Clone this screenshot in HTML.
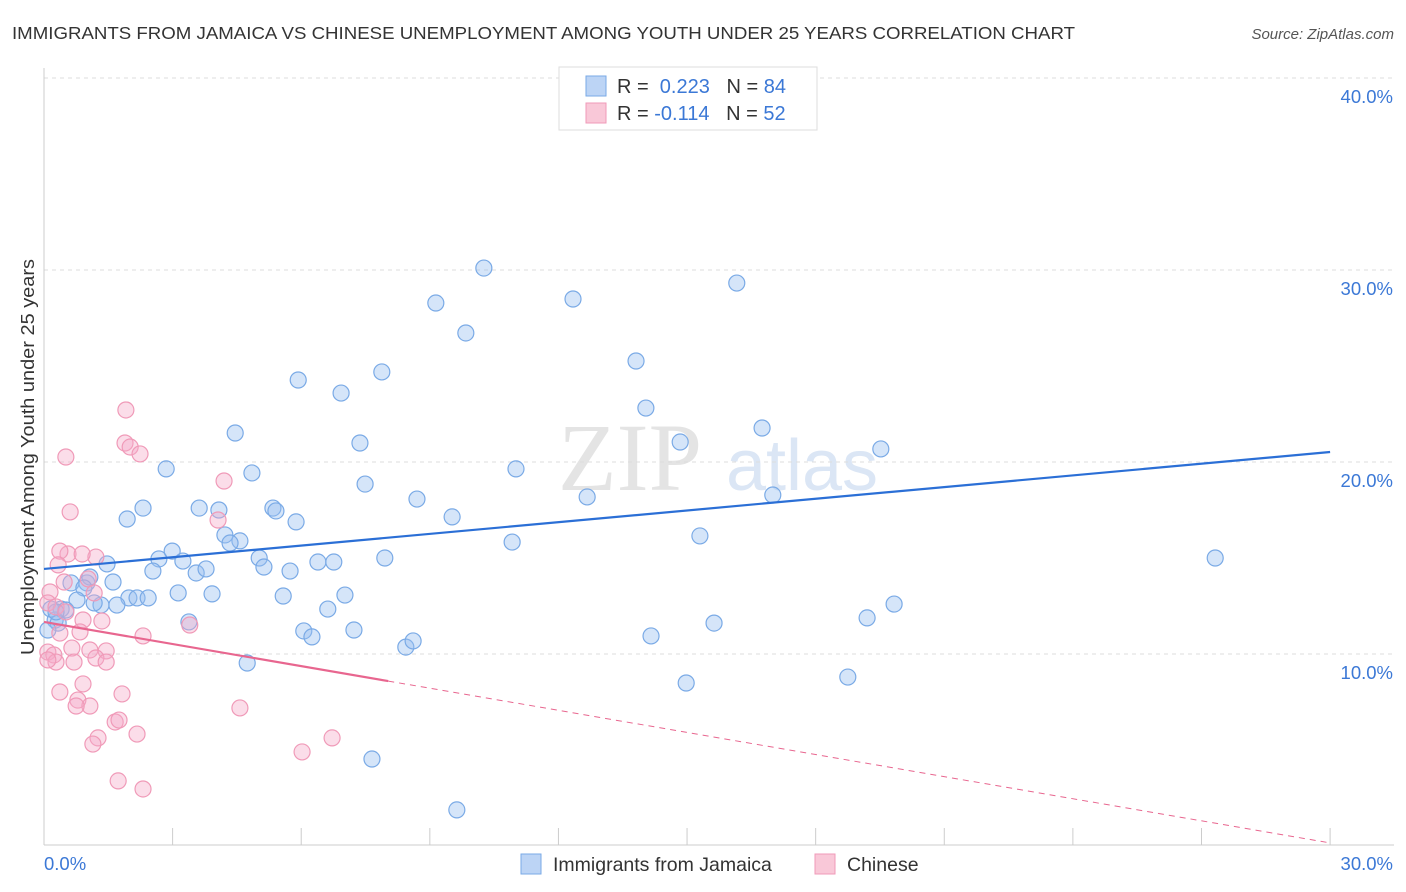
<!DOCTYPE html>
<html><head><meta charset="utf-8"><style>
body{margin:0;background:#fff;font-family:"Liberation Sans",sans-serif;}
svg{display:block}
</style></head><body>
<svg id="c" width="1406" height="892">
<text x="12" y="39" font-size="17.5" fill="#333" textLength="1063" lengthAdjust="spacingAndGlyphs">IMMIGRANTS FROM JAMAICA VS CHINESE UNEMPLOYMENT AMONG YOUTH UNDER 25 YEARS CORRELATION CHART</text>
<text x="1394" y="39" font-size="15" fill="#555" text-anchor="end" font-style="italic">Source: ZipAtlas.com</text>
<text x="630" y="490" font-size="96" fill="#e4e4e4" font-family="Liberation Serif" text-anchor="middle">ZIP</text>
<text x="802" y="490" font-size="72" fill="#dbe6f5" text-anchor="middle">atlas</text>
<text transform="translate(34,457) rotate(-90)" font-size="18" fill="#333" text-anchor="middle" textLength="396" lengthAdjust="spacingAndGlyphs">Unemployment Among Youth under 25 years</text>
<g id="grid"></g><g id="marks"></g>
<g>
<rect x="559" y="67" width="258" height="63" fill="#fff" stroke="#ddd"/>
<rect x="586" y="76" width="20" height="20" fill="#bcd4f5" stroke="#7aaae6"/>
<rect x="586" y="103" width="20" height="20" fill="#f9c8d8" stroke="#f09ab8"/>
<text x="617" y="93" font-size="20" fill="#333">R = <tspan fill="#3b78d6">&#160;0.223</tspan>&#160;&#160;&#160;N = <tspan fill="#3b78d6">84</tspan></text>
<text x="617" y="120" font-size="20" fill="#333">R = <tspan fill="#3b78d6">-0.114</tspan>&#160;&#160;&#160;N = <tspan fill="#3b78d6">52</tspan></text>
</g>
<g>
<rect x="521" y="854" width="20" height="20" fill="#bcd4f5" stroke="#7aaae6"/>
<text x="553" y="871" font-size="19.5" fill="#333">Immigrants from Jamaica</text>
<rect x="815" y="854" width="20" height="20" fill="#f9c8d8" stroke="#f09ab8"/>
<text x="847" y="871" font-size="19.5" fill="#333">Chinese</text>
</g>
</svg>
<script>
const blueX=[10.26,9.14,12.34,16.16,9.84,13.81,5.93,7.88,6.93,14.04,4.46,7.37,14.84,16.75,19.52,2.85,4.85,11.01,7.49,8.70,12.67,17.00,2.31,3.62,1.94,4.08,5.34,5.41,5.88,9.52,10.92,15.30,4.22,4.57,4.34,2.68,2.99,3.24,1.47,2.54,3.55,3.78,5.02,5.13,5.74,6.39,6.76,7.95,27.32,0.63,1.00,1.61,1.07,0.93,3.13,3.92,5.58,7.02,1.98,2.17,2.43,1.70,1.33,1.17,0.77,0.40,0.51,0.26,0.33,3.38,6.62,19.20,19.83,6.06,6.25,7.23,15.63,14.16,8.44,8.61,4.74,18.75,14.98,7.65,9.63,0.16,0.28,0.09];
const blueY=[30.10,28.28,28.49,29.32,26.72,25.26,24.27,24.69,23.59,22.81,21.51,20.99,21.04,21.77,20.68,19.64,19.43,19.64,18.85,18.07,18.18,18.28,17.60,17.60,17.03,17.50,17.60,17.45,16.88,17.14,15.83,16.15,16.20,15.89,15.78,14.95,15.36,14.84,14.69,14.32,14.22,14.43,15.00,14.53,14.32,14.79,14.79,15.00,15.00,13.70,13.70,13.75,14.01,13.44,13.18,13.13,13.02,13.07,12.92,12.92,12.92,12.55,12.55,12.66,12.81,12.34,12.29,11.77,11.61,11.67,12.34,11.88,12.60,11.20,10.89,11.25,11.61,10.94,10.36,10.68,9.53,8.80,8.49,4.53,1.88,12.34,12.19,11.25];
const pinkX=[1.91,0.51,1.89,2.01,2.24,4.2,0.61,4.06,0.56,1.21,0.37,0.89,0.33,0.47,1.03,1.17,0.14,0.09,0.28,0.51,0.91,1.35,0.37,0.84,3.4,2.31,0.65,1.07,1.45,0.09,0.23,0.28,0.7,1.21,1.45,0.91,0.37,1.82,0.79,1.07,0.75,4.57,1.66,1.75,1.26,1.14,2.17,6.02,6.72,1.73,2.31,0.09];
const pinkY=[22.71,20.26,20.99,20.78,20.42,19.01,17.4,16.98,15.21,15.05,15.36,15.21,14.64,13.75,13.91,13.18,13.23,12.66,12.45,12.19,11.77,11.72,11.09,11.15,11.51,10.94,10.31,10.21,10.16,10.1,9.95,9.58,9.58,9.79,9.58,8.44,8.02,7.92,7.6,7.29,7.29,7.19,6.46,6.56,5.63,5.31,5.83,4.9,5.63,3.39,2.97,9.69];
const yTicks=[10,20,30,40];
const X=v=>44+v*42.87, Y=v=>846-v*19.2;
const NS='http://www.w3.org/2000/svg';
const grid=document.getElementById('grid'),marks=document.getElementById('marks');
function mk(tag,at,parent){const e=document.createElementNS(NS,tag);for(const k in at)e.setAttribute(k,at[k]);parent.appendChild(e);return e;}
yTicks.forEach(t=>{
 const l=mk('line',{x1:44,x2:1394,y1:Y(t),y2:Y(t),stroke:'#ddd','stroke-dasharray':'4,4'},grid);
 
 
 const tx=mk('text',{x:1393,y:Y(t)+25,'font-size':18.5,fill:'#3b78d6','text-anchor':'end'},grid);
 tx.textContent=t.toFixed(1)+'%';
 
 
});
let ax=mk('line',{x1:44,x2:44,y1:68,y2:845,stroke:'#ccc'},grid);


ax=mk('line',{x1:44,x2:1394,y1:845,y2:845,stroke:'#ccc'},grid);


for(let i=1;i<=10;i++){const t=mk('line',{x1:X(i*3),x2:X(i*3),y1:828,y2:845,stroke:'#ccc'},grid);
 
 }
[[0,'0.0%',44,'start'],[30,'30.0%',1393,'end']].forEach(a=>{const t=mk('text',{x:a[2],y:870,'font-size':18.5,fill:'#3b78d6','text-anchor':a[3]},grid);t.textContent=a[1];
 
 });
blueX.forEach((v,i)=>{const c=mk('circle',{cx:X(v),cy:Y(blueY[i]),r:8,fill:'rgba(150,190,240,0.4)',stroke:'#7aaae6','stroke-width':1.2},marks);
 
 });
pinkX.forEach((v,i)=>{const c=mk('circle',{cx:X(v),cy:Y(pinkY[i]),r:8,fill:'rgba(245,170,200,0.4)',stroke:'#f09ab8','stroke-width':1.2},marks);
 
 });
let tl=mk('line',{x1:X(0),y1:Y(14.43),x2:X(30),y2:Y(20.52),stroke:'#2b6fd6','stroke-width':2.2},marks);


tl=mk('line',{x1:X(0),y1:Y(11.67),x2:X(8.03),y2:Y(8.59),stroke:'#e8668f','stroke-width':2.2},marks);


tl=mk('line',{x1:X(8.03),y1:Y(8.59),x2:X(30),y2:Y(0.16),stroke:'#e8668f','stroke-width':1,'stroke-dasharray':'6,5'},marks);


</script>
</body></html>
